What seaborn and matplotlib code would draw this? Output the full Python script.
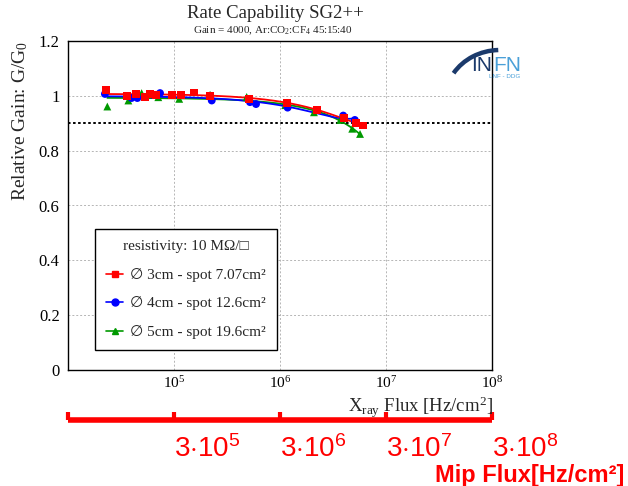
import numpy as np
import pandas as pd
import matplotlib
matplotlib.use("Agg")
import matplotlib.pyplot as plt
import matplotlib.ticker as mticker
from matplotlib.lines import Line2D
from matplotlib.patches import Arc
import seaborn as sns

# ---------------- data ----------------
red_x = [22700, 35800, 43500, 53200, 59400, 67600, 95000, 116000, 154600, 219000,
         513000, 1.156e6, 2.22e6, 4.02e6, 5.21e6, 6.10e6]
red_y = [1.022, 0.998, 1.007, 0.995, 1.007, 1.004, 1.004, 1.004, 1.012, 0.998,
         0.989, 0.973, 0.949, 0.919, 0.900, 0.892]

blue_x = [22300, 39800, 45100, 62400, 73800, 227000, 521000, 594000, 1.18e6, 3.95e6, 5.08e6]
blue_y = [1.007, 0.992, 0.992, 1.004, 1.010, 0.983, 0.977, 0.970, 0.957, 0.928, 0.912]

green_x = [23500, 37100, 49500, 71100, 112000, 219000, 485000, 1.12e6, 2.09e6, 3.70e6, 4.80e6, 5.69e6]
green_y = [0.961, 0.983, 1.010, 0.995, 0.989, 1.004, 0.996, 0.966, 0.940, 0.912, 0.880, 0.861]

series_labels = ["\u2205 3cm - spot 7.07cm\u00b2",
                 "\u2205 4cm - spot 12.6cm\u00b2",
                 "\u2205 5cm - spot 19.6cm\u00b2"]
series_colors = ["#ff0000", "#0000ff", "#009900"]
series_markers = ["s", "o", "^"]

legend_title = "resistivity: 10 M\u03a9/\u25a1"
threshold = 0.9

y_ticks = [0, 0.2, 0.4, 0.6, 0.8, 1.0, 1.2]
y_ticklabels = ["0", "0.2", "0.4", "0.6", "0.8", "1", "1.2"]
x_ticks = [1e5, 1e6, 1e7, 1e8]

mip_ticks = [3e4, 3e5, 3e6, 3e7, 3e8]
mip_ticklabels = ["", r"$\mathsf{3{\cdot}10^{5}}$", r"$\mathsf{3{\cdot}10^{6}}$",
                  r"$\mathsf{3{\cdot}10^{7}}$", r"$\mathsf{3{\cdot}10^{8}}$"]

# ---------------- frames (drawn green, blue, red so red lies on top) ----------------
xs_all = [red_x, blue_x, green_x]
ys_all = [red_y, blue_y, green_y]
rows = []
for lab, xs, ys in reversed(list(zip(series_labels, xs_all, ys_all))):
    for x, y in zip(xs, ys):
        rows.append({"flux": x, "gain": y, "series": lab})
df = pd.DataFrame(rows)

fit_rows = []
for lab, xs, ys in zip(series_labels, xs_all, ys_all):
    coef = np.polyfit(np.array(xs), np.array(ys), 2)
    xx = np.logspace(np.log10(min(xs)), np.log10(max(xs)), 200)
    for x, y in zip(xx, np.polyval(coef, xx)):
        fit_rows.append({"flux": x, "gain": y, "series": lab})
df_fit = pd.DataFrame(fit_rows)

# ---------------- style ----------------
sns.set_style("white")
SERIF = ["Liberation Serif", "DejaVu Sans"]
plt.rcParams["font.family"] = SERIF
plt.rcParams["mathtext.fontset"] = "custom"
plt.rcParams["mathtext.rm"] = "Liberation Serif"
plt.rcParams["mathtext.it"] = "Liberation Serif:italic"
plt.rcParams["mathtext.sf"] = "Liberation Sans"
plt.rcParams["mathtext.bf"] = "Liberation Serif:bold"

W, H = 628, 486
fig = plt.figure(figsize=(W / 100, H / 100), dpi=100)
fig.patch.set_facecolor("white")
ax = fig.add_axes([68 / W, (H - 370) / H, 424 / W, 329 / H])
ax.set_facecolor("white")

palette = dict(zip(series_labels, series_colors))
markers = dict(zip(series_labels, series_markers))

sns.lineplot(data=df_fit, x="flux", y="gain", hue="series", palette=palette,
             hue_order=series_labels[::-1],
             linewidth=1.3, legend=False, ax=ax, sort=False, estimator=None)
sns.scatterplot(data=df, x="flux", y="gain", hue="series", style="series",
                palette=palette, markers=markers, s=32, linewidth=0,
                legend=False, ax=ax, zorder=3)

ax.set_xscale("log")
ax.set_xlim(1e4, 1e8)
ax.set_ylim(0, 1.2)
ax.axhline(threshold, color="black", linestyle=(0, (1.3, 1.3)), linewidth=1.4, zorder=2)

# ticks & grid
ax.set_xticks(x_ticks)
ax.xaxis.set_major_formatter(mticker.LogFormatterMathtext())
ax.xaxis.set_minor_locator(mticker.LogLocator(base=10, subs=np.arange(2, 10), numticks=20))
ax.xaxis.set_minor_formatter(mticker.NullFormatter())
ax.set_yticks(y_ticks)
ax.set_yticklabels(y_ticklabels)
ax.yaxis.set_minor_locator(mticker.MultipleLocator(0.05))
ax.grid(True, which="major", color="#b5b5b5", linestyle=(0, (2, 2)), linewidth=0.7)
ax.set_axisbelow(True)

ax.tick_params(axis="both", which="both", direction="in", top=False, right=False, colors="black")
ax.tick_params(axis="y", which="major", length=7, width=0.9, labelsize=12, pad=6)
ax.tick_params(axis="y", which="minor", length=4, width=0.9)
ax.tick_params(axis="x", which="major", length=6, width=0.9, labelsize=11, pad=4)
ax.tick_params(axis="x", which="minor", length=3.5, width=0.9)
for s in ax.spines.values():
    s.set_color("black")
    s.set_linewidth(1.0)

ax.set_xlabel("")
ax.set_ylabel("")
fig.text(20 / W, 1 - 41 / H, "Relative Gain: G/G$_0$", rotation=90, ha="center", va="top",
         fontsize=14)
fig.text(493 / W, 1 - 407 / H, "X$_{\\rm ray}$ Flux [Hz/cm$^{2}$]", ha="right", va="center",
         fontsize=13.5)

# titles
fig.text(275 / W, 1 - 14 / H, "Rate Capability SG2++", ha="center", va="center", fontsize=13.5)
fig.text(273 / W, 1 - 31 / H, "Gain = 4000, Ar:CO$_2$:CF$_4$ 45:15:40", ha="center",
         va="center", fontsize=8)

# legend
handles = [Line2D([], [], color=c, marker=m, markersize=5, linewidth=1.2)
           for c, m in zip(series_colors, series_markers)]
leg = ax.legend(handles, series_labels, title=legend_title, loc="lower left",
                bbox_to_anchor=(0.064, 0.061), borderaxespad=0,
                title_fontsize=11, handlelength=1.1, handletextpad=0.45,
                labelspacing=0.95, borderpad=0.72, fancybox=False, framealpha=1,
                edgecolor="black", prop={"family": SERIF, "size": 11})
leg.get_frame().set_linewidth(1.0)
leg.get_title().set_family(SERIF)

# secondary (MIP) axis in red
sec = ax.secondary_xaxis(-0.152, functions=(lambda x: 3 * x, lambda x: x / 3))
sec.set_xticks(mip_ticks)
sec.set_xticklabels(mip_ticklabels)
sec.xaxis.set_minor_locator(mticker.NullLocator())
sec.tick_params(axis="x", which="major", direction="in", length=6, width=3, colors="#ff0000",
                labelsize=20, pad=11)
for lbl in sec.get_xticklabels():
    lbl.set_horizontalalignment("left")
    lbl.set_color("#ff0000")
sec.spines["bottom"].set_color("#ff0000")
sec.spines["bottom"].set_linewidth(4)
sec.spines["bottom"].set_capstyle("butt")

fig.text(435 / W, 1 - 475 / H, "Mip Flux[Hz/cm\u00b2]", ha="left", va="center",
         fontsize=17, fontweight="bold", color="#ff0000",
         family=["Liberation Sans", "DejaVu Sans"])

# INFN logo
navy = "#1b3a6b"
light = "#4aa0d8"
arc = Arc(((500) / 100, (H - 100) / 100), 1.10, 1.0, angle=0, theta1=92, theta2=150,
          transform=fig.dpi_scale_trans, color=navy, linewidth=3.2)
fig.add_artist(arc)
fig.text(471 / W, 1 - 71 / H, "IN", ha="left", va="baseline", fontsize=15, color=navy,
         family="Liberation Sans")
fig.text(493 / W, 1 - 71 / H, "FN", ha="left", va="baseline", fontsize=15, color=light,
         family="Liberation Sans")
fig.text(489 / W, 1 - 76 / H, "LNF - DDG", ha="left", va="center", fontsize=4.5, color=light,
         family="Liberation Sans")

fig.savefig("out.png", dpi=100, facecolor="white")
